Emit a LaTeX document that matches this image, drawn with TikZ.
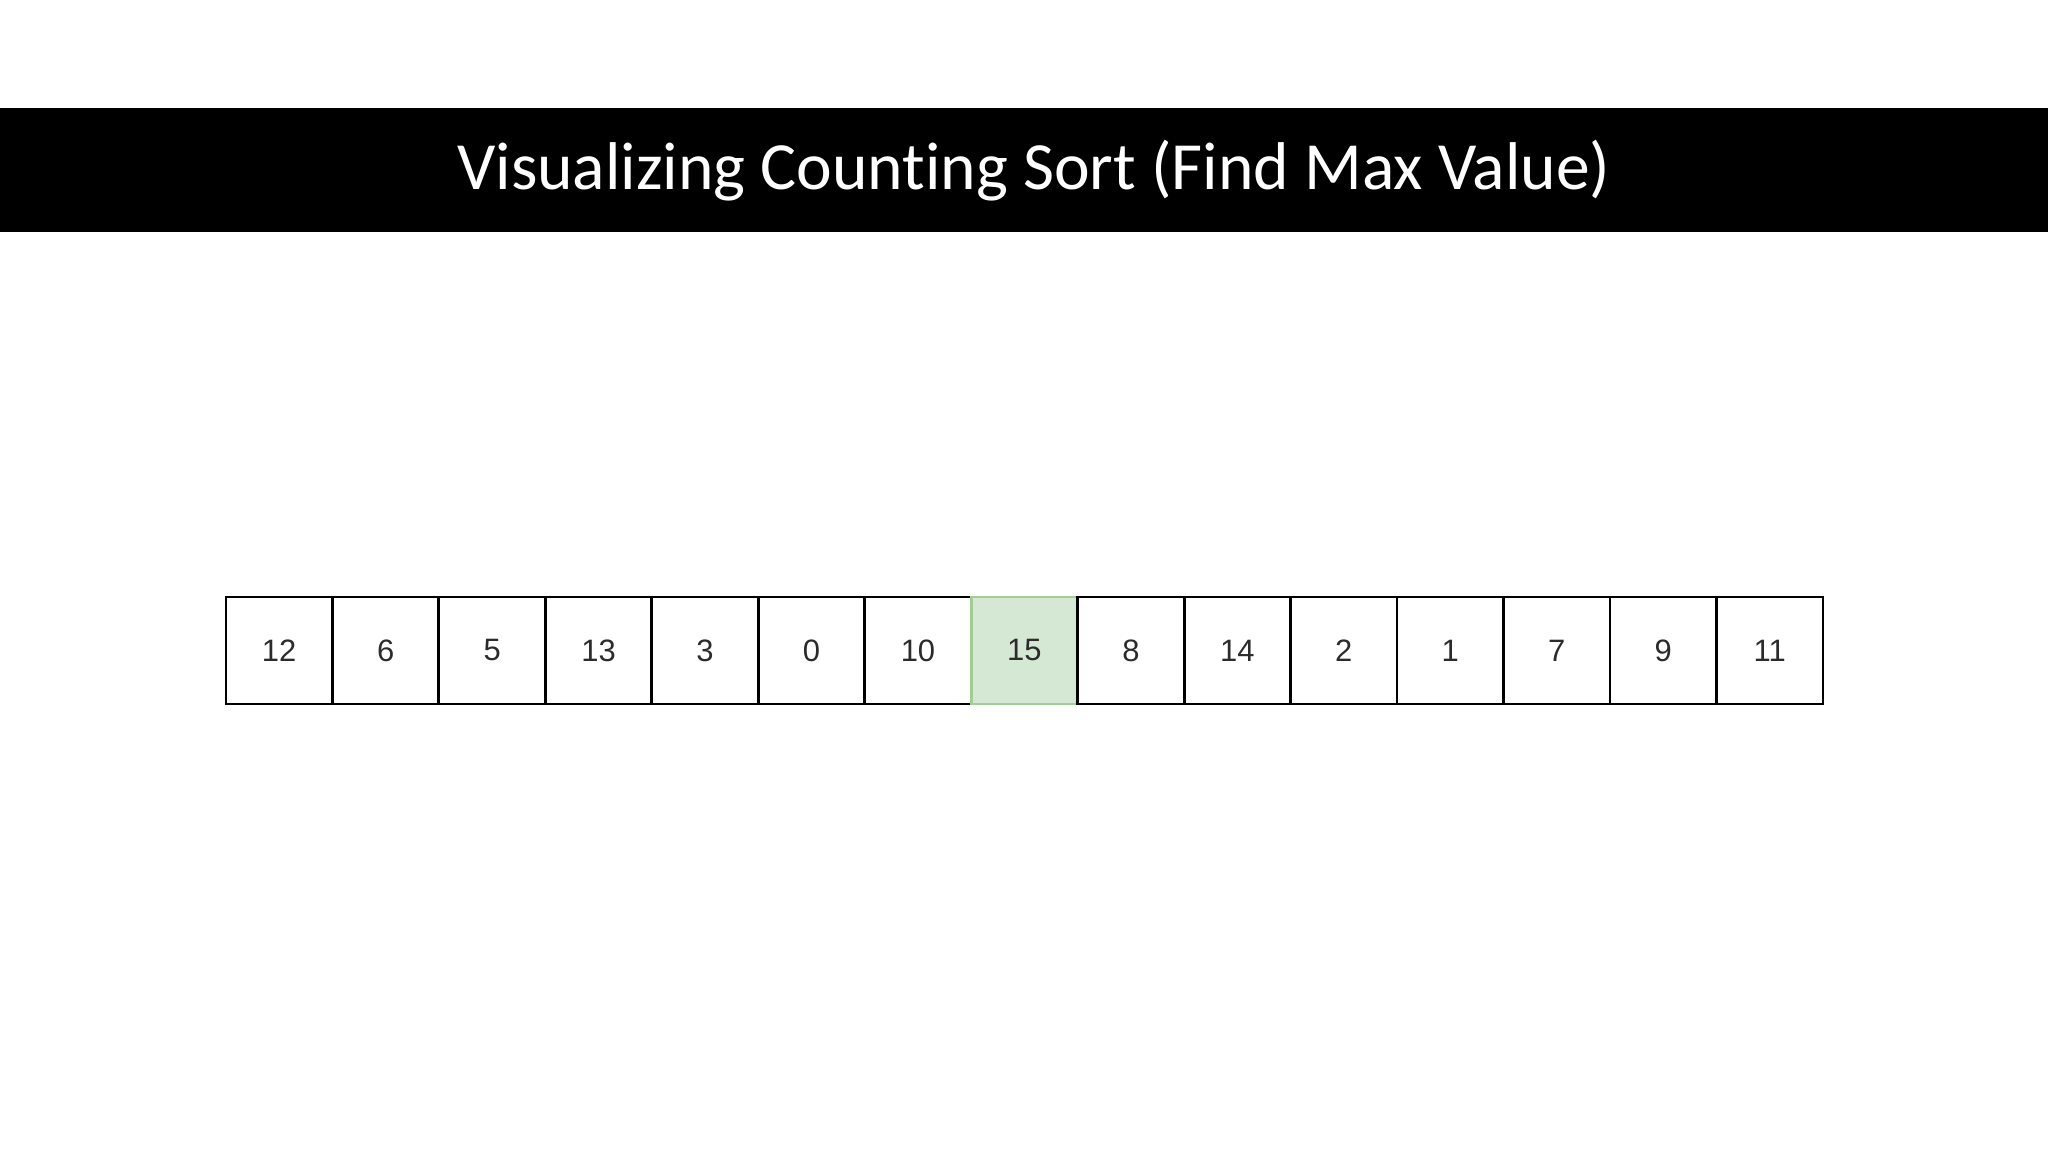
\documentclass[tikz,border=0pt]{standalone}
\usepackage{fontspec}
\setmainfont{Liberation Sans}
\newfontfamily\titlefont[Ligatures=NoCommon]{Carlito}
\usetikzlibrary{positioning}

\definecolor{maxfill}{HTML}{D5E8D4}
\definecolor{maxline}{HTML}{A3CC96}
\definecolor{digitgray}{HTML}{2B2B2B}

\begin{document}
\begin{tikzpicture}[
  % one unit = one pixel of the slide, y runs downwards
  x=0.01cm, y=-0.01cm,
  node distance=0pt,
  cell/.style={
    draw, line width=0.8pt,
    minimum width=1.064cm, minimum height=1.07cm,
    inner sep=0pt, outer sep=0pt,
    text=digitgray,
    font=\fontsize{8.8}{10}\selectfont
  },
  maxcell/.style={cell, fill=maxfill, draw=maxline},
  titletext/.style={
    text=white, anchor=base, inner sep=0pt,
    font=\titlefont\fontsize{19.2}{23}\selectfont
  }
]

\useasboundingbox (0,0) rectangle (2048,1152);

% Title bar
\fill[black] (0,108) rectangle (2048,232);
\node[titletext] (title) at (1034,190) {Visualizing Counting Sort (Find Max Value)};

% Array cells
\node[cell] (c0) at (279.2,650.5) {12};
\node[cell, right=of c0] (c1) {6};
\node[cell, right=of c1] (c2) {5};
\node[cell, right=of c2] (c3) {13};
\node[cell, right=of c3] (c4) {3};
\node[cell, right=of c4] (c5) {0};
\node[cell, right=of c5] (c6) {10};
% the maximum value
\node[maxcell, right=of c6] (c7) {15};
\node[cell, right=of c7] (c8) {8};
\node[cell, right=of c8] (c9) {14};
\node[cell, right=of c9] (c10) {2};
\node[cell, right=of c10] (c11) {1};
\node[cell, right=of c11] (c12) {7};
\node[cell, right=of c12] (c13) {9};
\node[cell, right=of c13] (c14) {11};

\end{tikzpicture}
\end{document}
